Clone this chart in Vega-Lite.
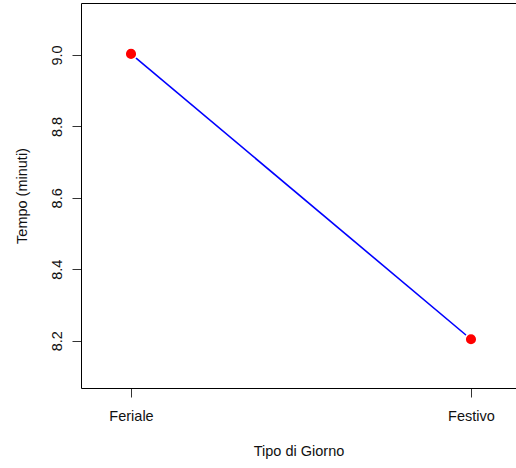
{
  "$schema": "https://vega.github.io/schema/vega-lite/v6.json",
  "width": 435,
  "height": 385,
  "autosize": {"type": "none"},
  "padding": {"left": 81, "top": 3, "right": 0, "bottom": 80},
  "background": "white",
  "data": {
    "values": [
      {"giorno": "Feriale", "pos": 1, "tempo": 9.003},
      {"giorno": "Festivo", "pos": 2, "tempo": 8.204}
    ]
  },
  "config": {
    "view": {"stroke": null},
    "font": "Liberation Sans",
    "axis": {
      "grid": false,
      "domainColor": "black",
      "domainWidth": 1,
      "tickColor": "#333",
      "tickWidth": 1,
      "tickSize": 9,
      "labelFont": "Liberation Sans",
      "labelFontSize": 14.5,
      "labelColor": "#111",
      "titleFont": "Liberation Sans",
      "titleFontSize": 14.5,
      "titleFontWeight": "normal",
      "titleColor": "#111"
    }
  },
  "layer": [
    {
      "mark": {"type": "line", "color": "#0000ff", "strokeWidth": 1.6},
      "encoding": {
        "x": {
          "field": "pos",
          "type": "quantitative",
          "scale": {"domain": [0.8529, 2.1324], "nice": false, "zero": false},
          "axis": {
            "orient": "bottom",
            "values": [1, 2],
            "labelExpr": "datum.value == 1 ? 'Feriale' : 'Festivo'",
            "labelPadding": 12,
            "labelFlush": false,
            "labelOverlap": false,
            "title": "Tipo di Giorno",
            "titlePadding": 22
          }
        },
        "y": {
          "field": "tempo",
          "type": "quantitative",
          "scale": {"domain": [8.0675, 9.1456], "nice": false, "zero": false},
          "axis": {
            "values": [8.2, 8.4, 8.6, 8.8, 9.0],
            "format": ".1f",
            "labelAngle": -90,
            "labelAlign": "center",
            "labelBaseline": "bottom",
            "labelPadding": 8,
            "labelFlush": false,
            "labelOverlap": false,
            "title": "Tempo (minuti)",
            "titlePadding": 20
          }
        }
      }
    },
    {
      "mark": {
        "type": "circle",
        "color": "#ff0000",
        "opacity": 1,
        "size": 135,
        "stroke": "white",
        "strokeWidth": 1.5
      },
      "encoding": {
        "x": {
          "field": "pos",
          "type": "quantitative",
          "axis": {
            "orient": "top",
            "labels": false,
            "ticks": false,
            "title": null
          }
        },
        "y": {"field": "tempo", "type": "quantitative"}
      }
    }
  ],
  "resolve": {"axis": {"x": "independent"}}
}
